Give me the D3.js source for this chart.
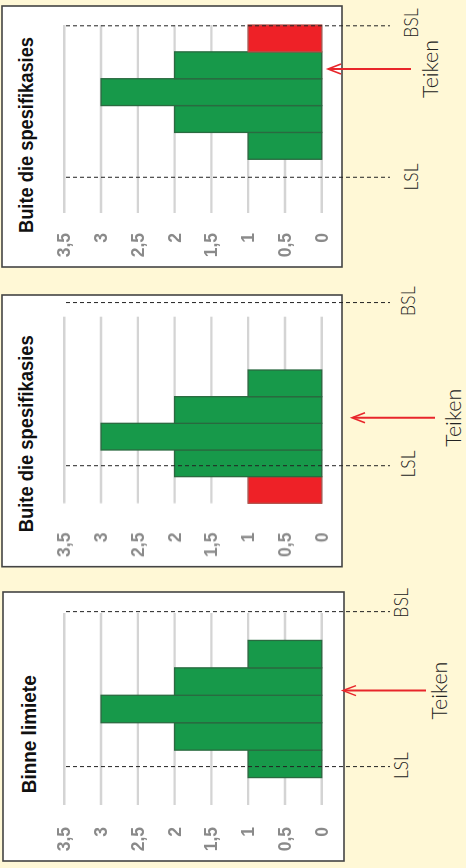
<!DOCTYPE html>
<html>
<head>
<meta charset="utf-8">
<script src="https://cdn.jsdelivr.net/npm/d3@7"></script>
<style>
  html, body { margin: 0; padding: 0; background: #FFF8D6; }
  svg { display: block; }
</style>
</head>
<body>
<svg id="chart" width="466" height="868"></svg>
<script>
// ---------- DATA ----------
const panelTitles = ["Buite die spesifikasies", "Buite die spesifikasies", "Binne limiete"];
// counts per bin (7 bins, listed from the bottom of each panel upward)
const countsP1 = [0, 0, 1, 2, 3, 2, 1];
const countsP2 = [1, 2, 3, 2, 1, 0, 0];
const countsP3 = [0, 1, 2, 3, 2, 1, 0];
// bins lying outside the specification limits
const outsideP1 = [false, false, false, false, false, false, true];
const outsideP2 = [true, false, false, false, false, false, false];
const outsideP3 = [false, false, false, false, false, false, false];
// limit and target positions in bin units
const lslValues = [1.33, 1.41, 1.40];
const bslValues = [6.97, 7.53, 7.05];
const targetValues = [5.36, 3.21, 4.17];
const valueTicks = [0, 0.5, 1, 1.5, 2, 2.5, 3, 3.5];
const tickLabels = ["0", "0,5", "1", "1,5", "2", "2,5", "3", "3,5"];
const lslLabel = "LSL";
const bslLabel = "BSL";
const targetLabel = "Teiken";
const binCount = 7;

// ---------- LAYOUT ----------
const layout = [
  { left: 2, right: 342, top: 6,   bottom: 267,   gridTop: 25,    gridBottom: 213,
    titleStart: 34, titleBase: 31, titleLen: 196,
    labelBase: 418, teikenBase: 438, bslShift: 2.7, lslShift: 0.3, arrowTip: 326 },
  { left: 2, right: 342, top: 295, bottom: 566.7, gridTop: 316.7, gridBottom: 503.3,
    titleStart: 34.4, titleBase: 31, titleLen: 197,
    labelBase: 415, teikenBase: 461, bslShift: 1.3, lslShift: 1.7, arrowTip: 350 },
  { left: 3, right: 344, top: 592, bottom: 861,   gridTop: 613,   gridBottom: 805,
    titleStart: 67.7, titleBase: 33, titleLen: 118,
    labelBase: 408, teikenBase: 447, bslShift: 8.7, lslShift: 1, arrowTip: 340 }
];

const counts = [countsP1, countsP2, countsP3];
const outside = [outsideP1, outsideP2, outsideP3];

const svg = d3.select("#chart");
const defs = svg.append("defs");
defs.append("filter").attr("id", "soft")
  .append("feGaussianBlur").attr("stdDeviation", 0.55);

const GREEN = "#17994A", RED = "#EE2127";

layout.forEach((L, p) => {
  const W = L.bottom - L.top;      // local width (screen height)
  const H = L.right - L.left;      // local height (screen width)
  // local frame: lx upward from panel bottom, ly rightward from panel left
  const g = svg.append("g")
    .attr("transform", `translate(${L.left},${L.bottom}) rotate(-90)`);

  g.append("rect")
    .attr("x", 0).attr("y", 0).attr("width", W).attr("height", H)
    .attr("fill", "#fff").attr("stroke", "#444").attr("stroke-width", 1.6);

  const cat = d3.scaleLinear().domain([0, binCount])
    .range([L.bottom - L.gridBottom, L.bottom - L.gridTop]);
  const val = d3.scaleLinear().domain([0, 3.5])
    .range([321.7 - L.left, 64.3 - L.left]);

  // gridlines
  g.append("g").attr("filter", "url(#soft)")
    .selectAll("line").data(valueTicks).join("line")
    .attr("x1", cat(0)).attr("x2", cat(binCount))
    .attr("y1", d => val(d)).attr("y2", d => val(d))
    .attr("stroke", "#d4d4d4").attr("stroke-width", 2.4);

  // value axis labels
  const axis = d3.axisLeft(val)
    .tickValues(valueTicks)
    .tickFormat((d, i) => tickLabels[i])
    .tickSize(0)
    .tickPadding(cat(0) - 34);
  const ax = g.append("g").attr("transform", `translate(${cat(0)},0)`).call(axis);
  ax.select(".domain").remove();
  ax.attr("filter", "url(#soft)");
  ax.selectAll("text")
    .attr("fill", "#8a8a8a")
    .attr("font-family", "'Liberation Sans', Arial, sans-serif")
    .attr("font-weight", "bold")
    .attr("font-size", 17.5);

  // bars
  const bins = counts[p].map((c, i) => ({ i, c, out: outside[p][i] })).filter(d => d.c > 0);
  g.append("g").selectAll("rect").data(bins).join("rect")
    .attr("x", d => cat(d.i))
    .attr("width", d => cat(d.i + 1) - cat(d.i))
    .attr("y", d => val(d.c))
    .attr("height", d => val(0) - val(d.c))
    .attr("fill", d => d.out ? RED : GREEN)
    .attr("stroke", d => d.out ? "#b3504a" : "#2a6a40")
    .attr("stroke-width", 1.3);

  // title
  g.append("text")
    .attr("x", L.titleStart).attr("y", L.titleBase)
    .attr("font-family", "'Liberation Sans', Arial, sans-serif")
    .attr("font-weight", "bold").attr("font-size", 20)
    .attr("textLength", L.titleLen).attr("lengthAdjust", "spacingAndGlyphs")
    .attr("fill", "#111")
    .text(panelTitles[p]);

  // limit lines
  const limits = [
    { v: lslValues[p], label: lslLabel, shift: L.lslShift, len: 27 },
    { v: bslValues[p], label: bslLabel, shift: L.bslShift, len: 30 }
  ];
  limits.forEach(lim => {
    g.append("line")
      .attr("x1", cat(lim.v)).attr("x2", cat(lim.v))
      .attr("y1", 66 - L.left).attr("y2", 390 - L.left)
      .attr("stroke", "#222").attr("stroke-width", 1)
      .attr("stroke-dasharray", "4,3");
    g.append("text")
      .attr("x", cat(lim.v) + lim.shift).attr("y", L.labelBase - L.left)
      .attr("text-anchor", "middle")
      .attr("font-family", "Lato, 'Open Sans', sans-serif")
      .attr("font-weight", 300).attr("font-size", 20)
      .attr("textLength", lim.len).attr("lengthAdjust", "spacingAndGlyphs")
      .attr("fill", "#222")
      .text(lim.label);
  });

  // target arrow
  const tx = cat(targetValues[p]);
  const tip = L.arrowTip;
  g.append("line")
    .attr("x1", tx).attr("x2", tx)
    .attr("y1", tip + 83).attr("y2", tip + 1)
    .attr("stroke", "#E8262B").attr("stroke-width", 2);
  g.append("path")
    .attr("d", d3.line()([[tx - 5, tip + 13], [tx, tip], [tx + 5, tip + 13]]))
    .attr("fill", "none").attr("stroke", "#E8262B").attr("stroke-width", 1.6);
  g.append("text")
    .attr("x", tx).attr("y", L.teikenBase - L.left)
    .attr("text-anchor", "middle")
    .attr("font-family", "Lato, 'Open Sans', sans-serif")
    .attr("font-weight", 300).attr("font-size", 22)
    .attr("textLength", 58).attr("lengthAdjust", "spacingAndGlyphs")
    .attr("fill", "#222")
    .text(targetLabel);
});
</script>
</body>
</html>
